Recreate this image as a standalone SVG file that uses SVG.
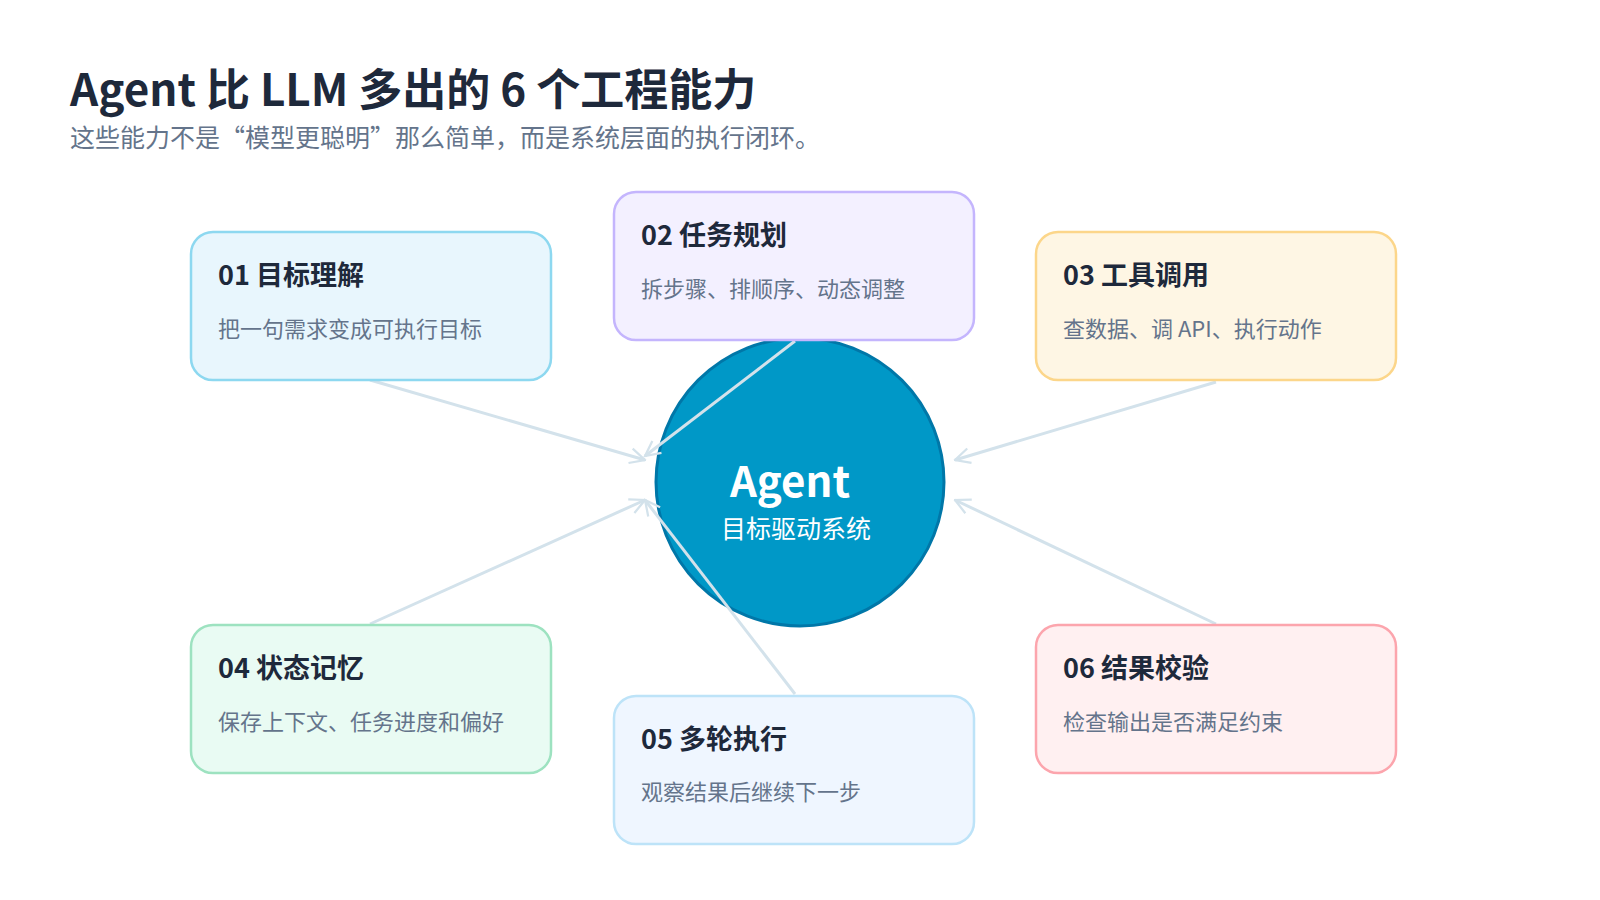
<svg xmlns="http://www.w3.org/2000/svg" width="1600" height="900" viewBox="0 0 1600 900">
<style>
text{font-family:"Noto Sans CJK SC","Noto Sans",sans-serif}
.t{font-size:27px;font-weight:700;fill:#1e293b}
.d{font-size:22px;fill:#64748b}
.c{stroke:#d3e2eb;stroke-width:3;fill:none;marker-end:url(#a)}
</style>
<defs><marker id="a" viewBox="0 0 12 12" refX="11" refY="6" markerWidth="6" markerHeight="6" orient="auto" markerUnits="strokeWidth"><path d="M1 1L11 6L1 11" fill="none" stroke="#d3e2eb" stroke-width="1.5"/></marker></defs>
<rect width="1600" height="900" fill="#fff"/>
<text x="70" y="106" font-size="44" font-weight="700" fill="#1e293b">Agent 比 LLM 多出的 6 个工程能力</text>
<text x="70" y="147" font-size="25" fill="#64748b">这些能力不是“模型更聪明”那么简单，而是系统层面的执行闭环。</text>
<g id="center"><circle cx="800" cy="482" r="144" fill="#0098c7" stroke="#0077a8" stroke-width="3"/>
<text x="790" y="497" text-anchor="middle" font-size="42" font-weight="700" fill="#fff">Agent</text>
<text x="796" y="538" text-anchor="middle" font-size="25" fill="#fff">目标驱动系统</text></g>
<g id="connectors">
<line class="c" x1="370" y1="380" x2="645" y2="460"/>
<line class="c" x1="795" y1="341" x2="645" y2="456"/>
<line class="c" x1="1216" y1="382" x2="955" y2="460"/>
<line class="c" x1="370" y1="624" x2="645" y2="500"/>
<line class="c" x1="795" y1="694" x2="645" y2="500"/>
<line class="c" x1="1216" y1="624" x2="955" y2="500"/>
</g>
<g id="n1"><rect x="191" y="232" width="360" height="148" rx="22" fill="#e8f6fd" stroke="#8dd8f0" stroke-width="2.5"/><text class="t" x="218" y="285">01 目标理解</text><text class="d" x="218" y="337">把一句需求变成可执行目标</text></g>
<g id="n2"><rect x="614" y="192" width="360" height="148" rx="22" fill="#f3f0ff" stroke="#c4b5fd" stroke-width="2.5"/><text class="t" x="641" y="245">02 任务规划</text><text class="d" x="641" y="297">拆步骤、排顺序、动态调整</text></g>
<g id="n3"><rect x="1036" y="232" width="360" height="148" rx="22" fill="#fef6e4" stroke="#fcd68a" stroke-width="2.5"/><text class="t" x="1063" y="285">03 工具调用</text><text class="d" x="1063" y="337">查数据、调 API、执行动作</text></g>
<g id="n4"><rect x="191" y="625" width="360" height="148" rx="22" fill="#e9fbf3" stroke="#9de2c0" stroke-width="2.5"/><text class="t" x="218" y="678">04 状态记忆</text><text class="d" x="218" y="730">保存上下文、任务进度和偏好</text></g>
<g id="n5"><rect x="614" y="696" width="360" height="148" rx="22" fill="#eff6ff" stroke="#bde3f8" stroke-width="2.5"/><text class="t" x="641" y="749">05 多轮执行</text><text class="d" x="641" y="800">观察结果后继续下一步</text></g>
<g id="n6"><rect x="1036" y="625" width="360" height="148" rx="22" fill="#fff0f1" stroke="#fca5ad" stroke-width="2.5"/><text class="t" x="1063" y="678">06 结果校验</text><text class="d" x="1063" y="730">检查输出是否满足约束</text></g>
</svg>
